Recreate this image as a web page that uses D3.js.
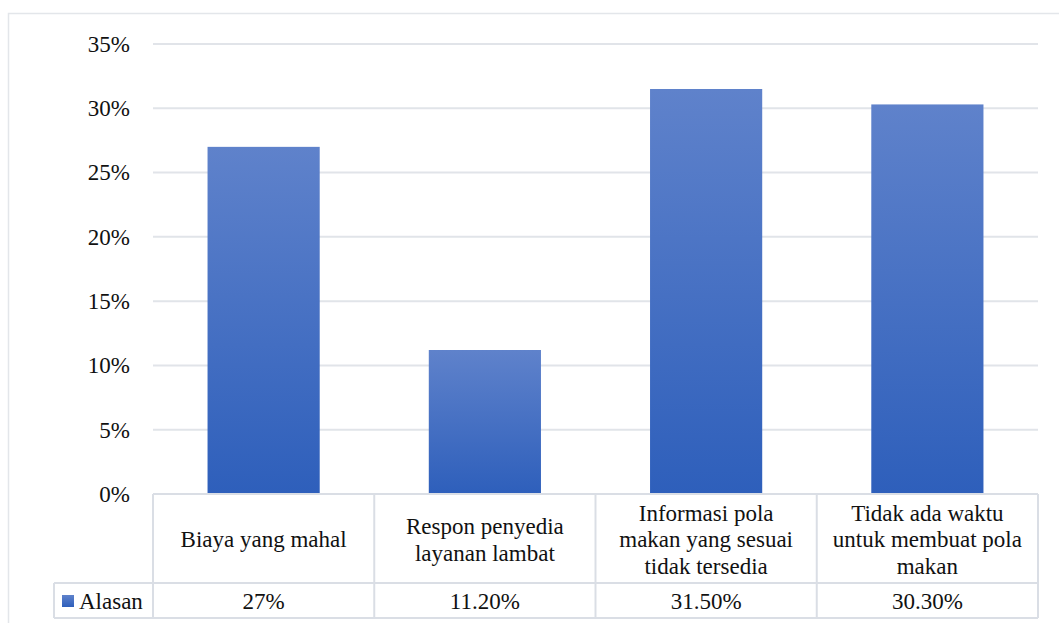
<!DOCTYPE html>
<html><head><meta charset="utf-8">
<script src="https://cdn.jsdelivr.net/npm/d3@7"></script>
<style>body{margin:0;background:#fff}svg{display:block}</style>
</head><body>
<svg id="c" width="1059" height="623"></svg>
<script>
const categories = [
  ["Biaya yang mahal"],
  ["Respon penyedia", "layanan lambat"],
  ["Informasi pola", "makan yang sesuai", "tidak tersedia"],
  ["Tidak ada waktu", "untuk membuat pola", "makan"]
];
const values = [27, 11.2, 31.5, 30.3];
const valueLabels = ["27%", "11.20%", "31.50%", "30.30%"];
const seriesName = "Alasan";
const yTicks = [0, 5, 10, 15, 20, 25, 30, 35];

const svg = d3.select("#c");
const left = 153, right = 1038, y0 = 494, yTop = 44;
const rowCat = 583, rowVal = 618, legLeft = 54;
const lineCol = "#dadee5";
const fs = 23;

const defs = svg.append("defs");
const g = defs.append("linearGradient").attr("id","bg").attr("x1",0).attr("y1",0).attr("x2",0).attr("y2",1);
g.append("stop").attr("offset","0%").attr("stop-color","#5f82cb");
g.append("stop").attr("offset","100%").attr("stop-color","#2e5fbb");

// outer border
svg.append("rect").attr("x",8.5).attr("y",13.5).attr("width",1100).attr("height",700)
  .attr("fill","none").attr("stroke","#e3e6ea").attr("stroke-width",1.5);

const x = d3.scaleBand().domain(d3.range(categories.length)).range([left,right]).paddingInner(0.493).paddingOuter(0.2465);
const y = d3.scaleLinear().domain([0,35]).range([y0,yTop]);

// gridlines
svg.append("g").selectAll("line").data(yTicks.filter(d=>d>0)).join("line")
  .attr("x1",left).attr("x2",right).attr("y1",d=>y(d)).attr("y2",d=>y(d))
  .attr("stroke","#e1e4e9").attr("stroke-width",2);

// y axis labels
svg.append("g").selectAll("text").data(yTicks).join("text")
  .attr("x",130).attr("y",d=>y(d)).attr("dy","0.34em").attr("text-anchor","end")
  .attr("font-size",fs).attr("fill","#111").text(d=>d+"%");

// bars
svg.append("g").selectAll("rect").data(values).join("rect")
  .attr("x",(d,i)=>x(i)).attr("width",x.bandwidth())
  .attr("y",d=>y(d)).attr("height",d=>y0-y(d)).attr("fill","url(#bg)");

// data table
const tg = svg.append("g").attr("stroke",lineCol).attr("stroke-width",2);
const step = (right-left)/categories.length;
const cols = d3.range(categories.length+1).map(i=>left+i*step);
tg.append("line").attr("x1",left).attr("x2",right).attr("y1",y0).attr("y2",y0);
tg.append("line").attr("x1",legLeft).attr("x2",right).attr("y1",rowCat).attr("y2",rowCat);
tg.append("line").attr("x1",legLeft).attr("x2",right).attr("y1",rowVal).attr("y2",rowVal);
cols.forEach(cx=>tg.append("line").attr("x1",cx).attr("x2",cx).attr("y1",y0).attr("y2",rowVal));
tg.append("line").attr("x1",legLeft).attr("x2",legLeft).attr("y1",rowCat).attr("y2",rowVal);

// category labels
const lh = 26.5;
categories.forEach((lines,i)=>{
  const cx = left + (i+0.5)*step;
  const cy = (y0+rowCat)/2 + 1;
  const t = svg.append("text").attr("text-anchor","middle")
    .attr("font-size",fs).attr("fill","#111");
  lines.forEach((ln,j)=>{
    t.append("tspan").attr("x",cx).attr("y",cy + (j-(lines.length-1)/2)*lh).attr("dy","0.34em").text(ln);
  });
});

// value labels
svg.append("g").selectAll("text").data(valueLabels).join("text")
  .attr("x",(d,i)=>left+(i+0.5)*step).attr("y",(rowCat+rowVal)/2).attr("dy","0.36em")
  .attr("text-anchor","middle").attr("font-size",fs).attr("fill","#111").text(d=>d);

// legend key
svg.append("rect").attr("x",62).attr("y",595).attr("width",12).attr("height",12).attr("fill","url(#bg)");
svg.append("text").attr("x",79).attr("y",(rowCat+rowVal)/2).attr("dy","0.36em")
  .attr("font-size",fs).attr("fill","#111").text(seriesName);
</script>
</body></html>
